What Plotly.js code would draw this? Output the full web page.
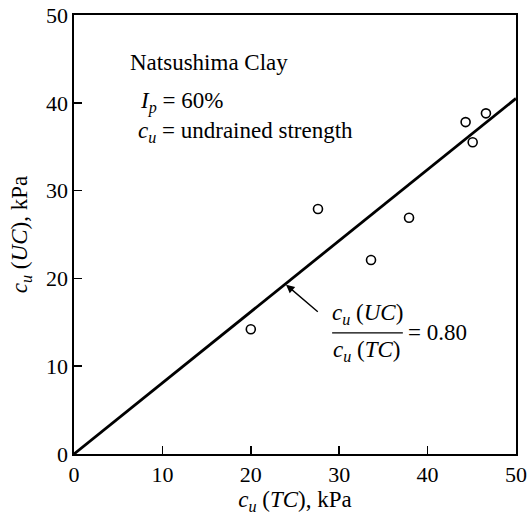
<!DOCTYPE html>
<html>
<head>
<meta charset="utf-8">
<script src="https://cdn.plot.ly/plotly-3.0.1.min.js"></script>
<style>html,body{margin:0;padding:0;background:#fff;}#chart{width:530px;height:516px;}</style>
</head>
<body>
<div id="chart"></div>
<script>
// Measured points: cu(TC) vs cu(UC), kPa
const cuTC = [20.0, 27.6, 33.6, 37.9, 44.3, 45.1, 46.6];
const cuUC = [14.2, 27.9, 22.1, 26.9, 37.8, 35.5, 38.8];
// Ratio line cu(UC)/cu(TC) through the origin
const lineX = [0, 50];
const lineY = [0, 40.5];
const xTicks = [0, 10, 20, 30, 40, 50];
const yTicks = [0, 10, 20, 30, 40, 50];

const FONT = 'Liberation Serif';

const traces = [
  {x: lineX, y: lineY, mode: 'lines', line: {color: '#000', width: 2.8}, hoverinfo: 'skip', showlegend: false},
  {x: cuTC, y: cuUC, mode: 'markers', marker: {symbol: 'circle-open', size: 9, color: '#000', line: {width: 1.6, color: '#000'}}, showlegend: false}
];

const layout = {
  width: 530, height: 516,
  margin: {l: 74, r: 14, t: 15, b: 62},
  paper_bgcolor: '#fff', plot_bgcolor: '#fff',
  font: {family: FONT, size: 22, color: '#000'},
  showlegend: false,
  xaxis: {
    range: [0, 50], tickvals: xTicks, ticktext: xTicks.map(String),
    ticks: 'inside', ticklen: 8, tickwidth: 1.5, tickcolor: '#000',
    showline: true, linecolor: '#000', linewidth: 1.6, mirror: true,
    showgrid: false, zeroline: false, fixedrange: true,
    tickfont: {family: FONT, size: 22, color: '#000'},
    title: {text: '<i>c<sub>u</sub></i> (<i>TC</i>), kPa', font: {family: FONT, size: 23, color: '#000'}, standoff: 0}
  },
  yaxis: {
    range: [0, 50], tickvals: yTicks, ticktext: yTicks.map(String),
    ticks: 'inside', ticklen: 8, tickwidth: 1.5, tickcolor: '#000',
    showline: true, linecolor: '#000', linewidth: 1.6, mirror: true,
    showgrid: false, zeroline: false, fixedrange: true,
    tickfont: {family: FONT, size: 22, color: '#000'},
    title: {text: '<i>c<sub>u</sub></i> (<i>UC</i>), kPa', font: {family: FONT, size: 23, color: '#000'}, standoff: 12}
  },
  annotations: [
    {xref: 'paper', yref: 'paper', x: 0.122, y: 0.892, xanchor: 'left', yanchor: 'middle', showarrow: false,
     text: 'Natsushima Clay', font: {family: FONT, size: 23, color: '#000'}},
    {xref: 'paper', yref: 'paper', x: 0.145, y: 0.80, xanchor: 'left', yanchor: 'middle', showarrow: false,
     text: '<i>I<sub>p</sub></i> = 60%', font: {family: FONT, size: 23, color: '#000'}},
    {xref: 'paper', yref: 'paper', x: 0.14, y: 0.733, xanchor: 'left', yanchor: 'middle', showarrow: false,
     text: '<i>c<sub>u</sub></i> = undrained strength', font: {family: FONT, size: 23, color: '#000'}},
    {xref: 'paper', yref: 'paper', x: 0.663, y: 0.319, xanchor: 'center', yanchor: 'middle', showarrow: false,
     text: '<i>c<sub>u</sub></i> (<i>UC</i>)', font: {family: FONT, size: 23, color: '#000'}},
    {xref: 'paper', yref: 'paper', x: 0.663, y: 0.235, xanchor: 'center', yanchor: 'middle', showarrow: false,
     text: '<i>c<sub>u</sub></i> (<i>TC</i>)', font: {family: FONT, size: 23, color: '#000'}},
    {xref: 'paper', yref: 'paper', x: 0.751, y: 0.276, xanchor: 'left', yanchor: 'middle', showarrow: false,
     text: '= 0.80', font: {family: FONT, size: 23, color: '#000'}},
    {xref: 'x', yref: 'y', x: 23.9, y: 0.81 * 23.9, showarrow: true, text: '',
     ax: 34, ay: 29, arrowhead: 2, arrowsize: 1.2, arrowwidth: 1.4, arrowcolor: '#000', standoff: 1}
  ],
  shapes: [
    {type: 'line', xref: 'paper', yref: 'paper', x0: 0.584, x1: 0.744, y0: 0.276, y1: 0.276, line: {color: '#000', width: 1.3}}
  ]
};

Plotly.newPlot('chart', traces, layout, {staticPlot: true, displayModeBar: false});
</script>
</body>
</html>
